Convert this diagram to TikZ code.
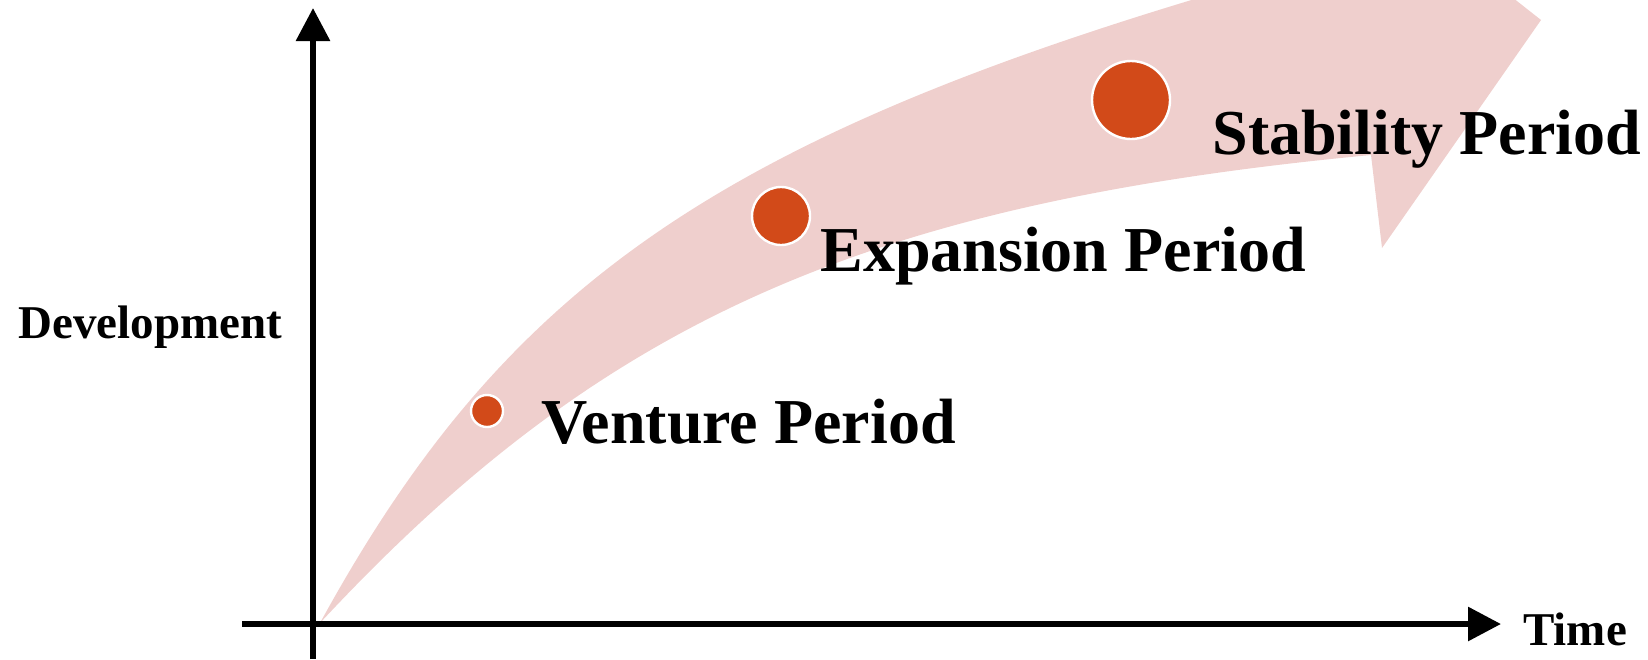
\documentclass[tikz,border=0pt]{standalone}
\usepackage{fontspec}
\setmainfont{Liberation Serif}
\usetikzlibrary{arrows.meta}
\definecolor{bandpink}{RGB}{239,207,205}
\definecolor{dotred}{RGB}{210,74,25}
\begin{document}
\begin{tikzpicture}[x=.5pt, y=-.5pt, >={Triangle[length=16.5pt,width=16.5pt]}, line join=round,
    dot/.style={circle, fill=dotred, draw=white, line width=1.2pt, inner sep=0pt},
    period/.style={font=\fontsize{32}{38}\selectfont\bfseries, inner sep=0pt, anchor=base west},
    axislabel/.style={font=\fontsize{23.5}{28}\selectfont\bfseries, inner sep=0pt, anchor=base west}]
	\useasboundingbox (0,0) rectangle (1648,659);
	% growth band
	\begin{scope}
		\clip (0,0) rectangle (1648,659);
		\fill[bandpink] (320,623) .. controls (515,267) and (741,120) .. (1349,-45)
			-- (1338,-140) -- (1541,20) -- (1382,248) -- (1371,155)
			.. controls (865,203) and (602,320) .. (320,623) -- cycle;
	\end{scope}
	% axes
	\coordinate (ybot) at (313,659); \coordinate (ytop) at (313,8);
	\coordinate (xleft) at (242,624); \coordinate (xright) at (1501,624);
	\draw[line width=3pt,->] (ybot) -- (ytop);
	\draw[line width=3pt,->] (xleft) -- (xright);
	\node[axislabel] (devlabel) at (18,338) {Development};
	\node[axislabel] (timelabel) at (1523,645) {Time};
	% periods
	\node[dot, minimum size=16pt] (venturedot) at (487,411) {};
	\node[dot, minimum size=29pt] (expansiondot) at (781,216) {};
	\node[dot, minimum size=39pt] (stabilitydot) at (1131,100) {};
	\node[period] (venture) at (541,443) {Venture Period};
	\node[period] (expansion) at (820,271) {Expansion Period};
	\node[period] (stability) at (1212,154) {Stability Period};
\end{tikzpicture}
\end{document}
